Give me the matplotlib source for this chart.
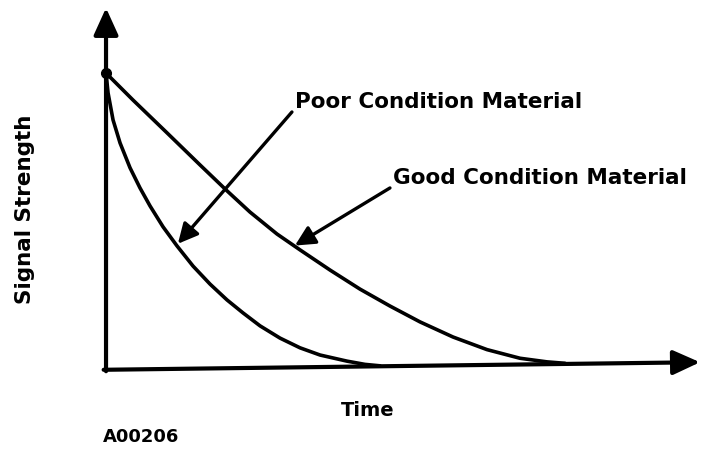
import matplotlib.pyplot as plt

# signal decay (time, signal strength), arbitrary units
poor_time = [0, 0.34, 1.18, 2.36, 4.04, 5.72, 7.41, 9.6, 11.95, 14.65, 17.51, 20.37,
             23.06, 25.93, 29.29, 32.66, 36.03, 40.57, 43.6, 46.13]
poor_signal = [81.9, 76.4, 68.9, 62.5, 55.6, 50.0, 45.0, 39.2, 33.9, 28.3, 23.3, 18.9,
               15.3, 11.7, 8.3, 5.6, 3.6, 1.9, 1.0, 0.6]

good_time = [0, 4.55, 10.27, 15.82, 20.37, 24.24, 28.79, 32.66, 37.71, 42.76, 47.81,
             52.86, 58.42, 64.14, 69.7, 74.24, 77.27]
good_signal = [81.9, 74.4, 65.3, 56.4, 49.2, 43.3, 37.2, 32.8, 27.2, 21.9, 17.2,
               12.8, 8.6, 5.1, 2.7, 1.7, 1.3]

labels = ["Poor Condition Material", "Good Condition Material"]

fig = plt.figure(figsize=(7.05, 4.49), dpi=100)
ax = fig.add_axes([0, 0, 1, 1])
ax.set_xlim(-17.85, 100.84)
ax.set_ylim(-22.5, 102.2)
ax.axis("off")

# axes drawn as arrows (the scanned x axis rises a little to the right)
axis_style = dict(arrowstyle="-|>,head_length=0.55,head_width=0.25", lw=3,
                  color="black", mutation_scale=30, shrinkA=0, shrinkB=0)
ax.annotate("", xy=(100, 1.6), xytext=(-0.4, -0.5), arrowprops=axis_style)
ax.annotate("", xy=(0, 100), xytext=(0, -0.9), arrowprops=axis_style)

ax.plot(poor_time, poor_signal, color="black", lw=2.6, solid_joinstyle="round", solid_capstyle="round")
ax.plot(good_time, good_signal, color="black", lw=2.6, solid_joinstyle="round", solid_capstyle="round")
ax.plot(good_time[0], good_signal[0], "o", color="black", ms=7)

font = dict(fontsize=15.5, fontweight="bold", color="black")
pointer = dict(arrowstyle="-|>,head_length=0.6,head_width=0.3", lw=2.4,
               color="black", mutation_scale=20, shrinkA=0, shrinkB=0)

ax.annotate("", xy=(12.1, 34.5), xytext=(31.3, 71.1), arrowprops=pointer)
ax.text(31.8, 73.9, labels[0], ha="left", va="center", **font)

ax.annotate("", xy=(31.8, 34.0), xytext=(47.8, 50.0), arrowprops=pointer)
ax.text(48.3, 52.8, labels[1], ha="left", va="center", **font)

ax.text(-13.6, 44.2, "Signal Strength", rotation=90, ha="center", va="center", **font)
ax.text(44.1, -11.7, "Time", ha="center", va="center", fontsize=14, fontweight="bold")
ax.text(-0.5, -19.2, "A00206", ha="left", va="center", fontsize=13, fontweight="bold")

fig.savefig("out.png", dpi=100)
